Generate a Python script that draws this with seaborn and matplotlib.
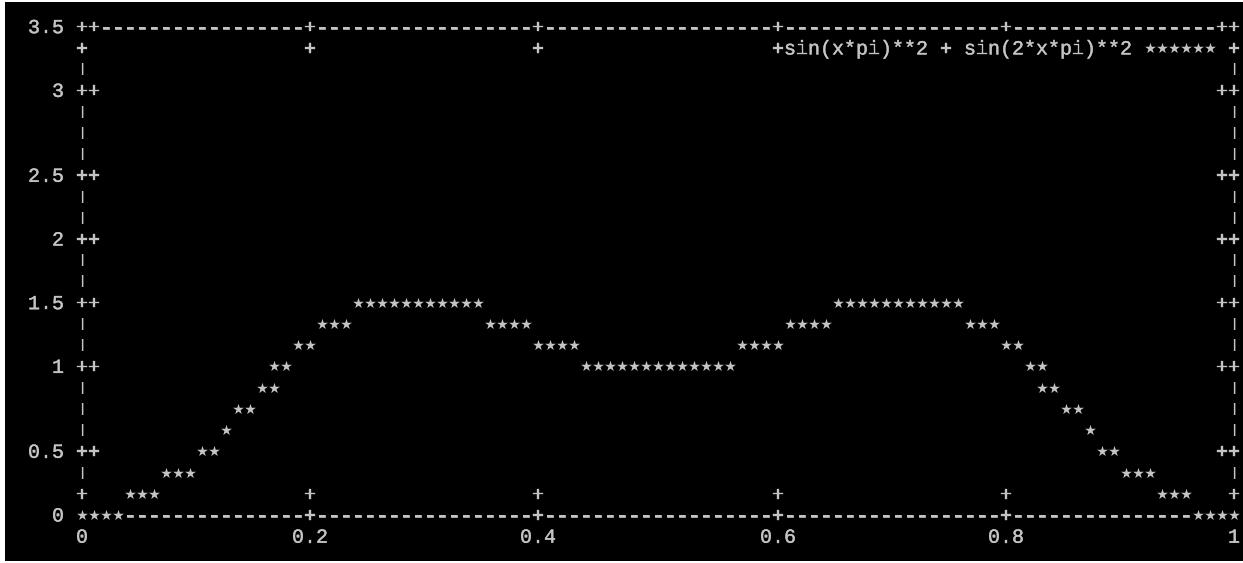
import matplotlib
matplotlib.use("Agg")
import matplotlib.pyplot as plt
import matplotlib.transforms as mtransforms
import matplotlib.patheffects as pe
import seaborn as sns

# ---- data -----------------------------------------------------------------
# curve as plotted on the character terminal: one point per '*' cell
curve_x = [
    0.000, 0.010, 0.021, 0.031, 0.042, 0.052, 0.063, 0.073, 0.083, 0.094,
    0.104, 0.115, 0.125, 0.135, 0.146, 0.156, 0.167, 0.167, 0.177, 0.188,
    0.198, 0.208, 0.219, 0.229, 0.240, 0.250, 0.260, 0.271, 0.281, 0.292,
    0.302, 0.313, 0.323, 0.333, 0.344, 0.354, 0.365, 0.375, 0.385, 0.396,
    0.406, 0.417, 0.427, 0.438, 0.448, 0.458, 0.469, 0.479, 0.490, 0.500,
    0.510, 0.521, 0.531, 0.542, 0.552, 0.563, 0.573, 0.583, 0.594, 0.604,
    0.615, 0.625, 0.635, 0.646, 0.656, 0.667, 0.677, 0.688, 0.698, 0.708,
    0.719, 0.729, 0.740, 0.750, 0.760, 0.771, 0.781, 0.792, 0.802, 0.813,
    0.823, 0.833, 0.833, 0.844, 0.854, 0.865, 0.875, 0.885, 0.896, 0.906,
    0.917, 0.927, 0.938, 0.948, 0.958, 0.969, 0.979, 0.990, 1.000,
]
curve_y = [
    0.000, 0.000, 0.000, 0.000, 0.152, 0.152, 0.152, 0.304, 0.304, 0.304,
    0.457, 0.457, 0.609, 0.761, 0.761, 0.913, 0.913, 1.065, 1.065, 1.217,
    1.217, 1.370, 1.370, 1.370, 1.522, 1.522, 1.522, 1.522, 1.522, 1.522,
    1.522, 1.522, 1.522, 1.522, 1.522, 1.370, 1.370, 1.370, 1.370, 1.217,
    1.217, 1.217, 1.217, 1.065, 1.065, 1.065, 1.065, 1.065, 1.065, 1.065,
    1.065, 1.065, 1.065, 1.065, 1.065, 1.065, 1.217, 1.217, 1.217, 1.217,
    1.370, 1.370, 1.370, 1.370, 1.522, 1.522, 1.522, 1.522, 1.522, 1.522,
    1.522, 1.522, 1.522, 1.522, 1.522, 1.370, 1.370, 1.370, 1.217, 1.217,
    1.065, 1.065, 0.913, 0.913, 0.761, 0.761, 0.609, 0.457, 0.457, 0.304,
    0.304, 0.304, 0.152, 0.152, 0.152, 0.000, 0.000, 0.000, 0.000,
]

x_ticks = [0.0, 0.2, 0.4, 0.6, 0.8, 1.0]
x_tick_labels = ["0", "0.2", "0.4", "0.6", "0.8", "1"]
y_ticks = [0.0, 0.5, 1.0, 1.5, 2.0, 2.5, 3.0, 3.5]
y_tick_labels = ["0", "0.5", "1", "1.5", "2", "2.5", "3", "3.5"]
legend_label = "sin(x*pi)**2 + sin(2*x*pi)**2"

X_MIN, X_MAX = 0.0, 1.0
Y_MIN, Y_MAX = 0.0, 3.5

# ---- terminal geometry ----------------------------------------------------
FIG_W, FIG_H = 1243, 563       # px
DPI = 100
N_COLS = 96                    # character columns from x = 0 to x = 1
N_ROWS = 23                    # character rows from y = 3.5 down to y = 0
CELL_W = 12.0                  # px per column
CELL_H = 21.23                 # px per row
ORIGIN_X = 82.0                # px from left of the x = 0 column
ORIGIN_Y = 515.0               # px from top of the y = 0 row
PAD_L, PAD_T, PAD_B = 5, 2, 2  # white screen border around the console
FONT = "Liberation Mono"
FONT_PT = CELL_W / 0.6 * 72 / DPI
BASELINE_DROP = 6.5            # px from row centre down to the baseline
DASH_SCALE = 0.95
BAR_SCALE = 0.6
STAR_SIZE = 66
FG = "#c4c4c4"
BG = "#000000"

sns.set_style("dark", {"axes.facecolor": BG, "figure.facecolor": "white"})
plt.rcParams["font.family"] = [FONT, "DejaVu Sans Mono"]

fig = plt.figure(figsize=(FIG_W / DPI, FIG_H / DPI), dpi=DPI)
ax = fig.add_axes([PAD_L / FIG_W, PAD_B / FIG_H,
                   (FIG_W - PAD_L) / FIG_W, (FIG_H - PAD_T - PAD_B) / FIG_H])

x_per_px = (X_MAX - X_MIN) / (N_COLS * CELL_W)
y_per_px = (Y_MAX - Y_MIN) / (N_ROWS * CELL_H)
ax.set_xlim(X_MIN + (PAD_L - ORIGIN_X) * x_per_px,
            X_MIN + (FIG_W - ORIGIN_X) * x_per_px)
ax.set_ylim(Y_MIN - (FIG_H - PAD_B - ORIGIN_Y) * y_per_px,
            Y_MIN + (ORIGIN_Y - PAD_T) * y_per_px)
ax.set_xticks([])
ax.set_yticks([])
ax.grid(False)
for sp in ax.spines.values():
    sp.set_visible(False)


def col_of(v):
    return int(round((v - X_MIN) / (X_MAX - X_MIN) * N_COLS))


def row_of(v):
    return N_ROWS - int(round((v - Y_MIN) / (Y_MAX - Y_MIN) * N_ROWS))


def col_x(c):
    return X_MIN + c * (X_MAX - X_MIN) / N_COLS


def row_y(r):
    return Y_MAX - r * (Y_MAX - Y_MIN) / N_ROWS


# ---- character canvas: frame, tics, labels, key ---------------------------
canvas = {}
for c in range(0, N_COLS + 1):
    canvas[(c, 0)] = "-"
    canvas[(c, N_ROWS)] = "-"
for r in range(0, N_ROWS + 1):
    canvas[(0, r)] = "|"
    canvas[(N_COLS, r)] = "|"
for c, r in [(0, 0), (N_COLS, 0), (0, N_ROWS), (N_COLS, N_ROWS)]:
    canvas[(c, r)] = "+"

for v in y_ticks:
    r = row_of(v)
    for c in (0, 1, N_COLS - 1, N_COLS):
        canvas[(c, r)] = "+"
for v in x_ticks:
    c = col_of(v)
    for r in (0, 1, N_ROWS - 1, N_ROWS):
        canvas[(c, r)] = "+"

for v, lab in zip(y_ticks, y_tick_labels):
    r = row_of(v)
    for i, ch in enumerate(lab):
        canvas[(-1 - len(lab) + i, r)] = ch
for v, lab in zip(x_ticks, x_tick_labels):
    c0 = col_of(v) - (len(lab) - 1) // 2
    for i, ch in enumerate(lab):
        canvas[(c0 + i, N_ROWS + 1)] = ch

# key in the top right corner: label, then a six-cell sample of the curve
key_row = 1
sample_cols = list(range(N_COLS - 7, N_COLS - 1))
label_end = sample_cols[0] - 2
for i, ch in enumerate(legend_label):
    canvas[(label_end - len(legend_label) + 1 + i, key_row)] = ch
for c in sample_cols:
    canvas[(c, key_row)] = " "

# curve cells are drawn as markers on top of the frame
for xv, yv in zip(curve_x, curve_y):
    canvas.pop((col_of(xv), row_of(yv)), None)

heavier = [pe.withStroke(linewidth=0.25, foreground=FG)]
dash_fx = [pe.withStroke(linewidth=0.5, foreground=FG)]
text_tr = mtransforms.offset_copy(ax.transData, fig=fig, x=0,
                                  y=-BASELINE_DROP, units="dots")
dash_tr = mtransforms.offset_copy(ax.transData, fig=fig, x=0,
                                  y=-BASELINE_DROP * DASH_SCALE, units="dots")
for (c, r), ch in canvas.items():
    if ch == " ":
        continue
    if ch == "-":
        ax.text(col_x(c), row_y(r), ch, transform=dash_tr, ha="center",
                va="baseline", fontsize=FONT_PT * DASH_SCALE, color=FG,
                zorder=2, path_effects=dash_fx)
    elif ch == "|":
        # short vertical bars, centred in their cell
        ax.text(col_x(c), row_y(r), ch, ha="center", va="center",
                fontsize=FONT_PT * BAR_SCALE, color=FG, fontweight="bold",
                zorder=2)
    else:
        ax.text(col_x(c), row_y(r), ch, transform=text_tr, ha="center",
                va="baseline", fontsize=FONT_PT, color=FG, zorder=2,
                path_effects=heavier)

# ---- the curve and its key sample -----------------------------------------
star_x = [col_x(col_of(v)) for v in curve_x]
star_y = [row_y(row_of(v)) for v in curve_y]
sns.scatterplot(x=star_x, y=star_y, marker="*", s=STAR_SIZE, color=FG,
                linewidth=0, ax=ax, legend=False, zorder=3)
sns.scatterplot(x=[col_x(c) for c in sample_cols],
                y=[row_y(key_row)] * len(sample_cols),
                marker="*", s=STAR_SIZE, color=FG, linewidth=0, ax=ax,
                legend=False, zorder=3)

fig.savefig("out.png", dpi=DPI, facecolor="white")
